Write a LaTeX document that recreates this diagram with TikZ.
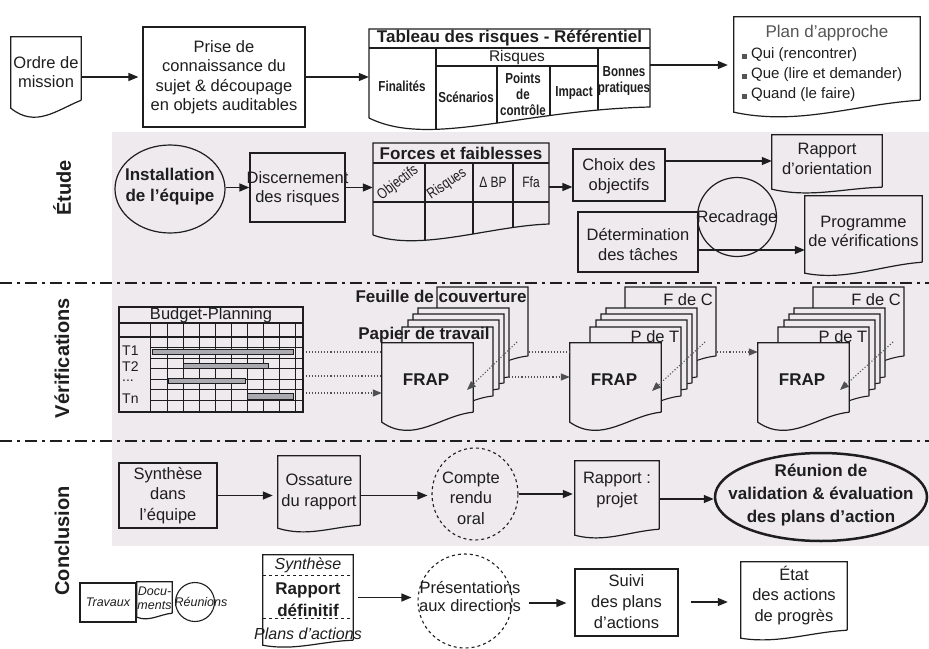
\documentclass[tikz,border=0pt]{standalone}
\usepackage{fontspec}
\setmainfont{Liberation Sans}
\newfontfamily\narrowfont[FakeStretch=0.8]{Liberation Sans}
\usetikzlibrary{arrows.meta,calc,shapes.geometric}
\definecolor{ink}{RGB}{30,30,30}
\definecolor{bgsec}{RGB}{238,234,238}
\definecolor{barfill}{RGB}{170,170,176}
\definecolor{dotc}{RGB}{80,80,80}
\definecolor{plangray}{RGB}{85,85,85}
\newcommand\fsM{\fontsize{16.5}{19.5}\selectfont}
\newcommand\fsB{\fontsize{17}{21}\selectfont\bfseries}
\newcommand\fsN{\fontsize{14.5}{16}\selectfont\narrowfont\bfseries}
\newcommand\fsS{\fontsize{12.5}{14}\selectfont\itshape}
% document outline: #2 node, #3 extra drop of left side, #4 dip, #5 right control
\newcommand\docshape[5][]{%
  \draw[docline,#1] (#2.south east) -- (#2.north east) -- (#2.north west) -- ($(#2.south west)+(0,#3)$)
   .. controls ($(#2.south west)!0.35!(#2.south east)+(0,{#3+#4})$) and ($(#2.south west)!0.65!(#2.south east)+(0,#5)$) .. (#2.south east);}
\newcommand\stackpage[2]{%
  \filldraw[pageline] ({#1+91},{#2+69}) -- ({#1+91},#2) -- (#1,#2) -- (#1,{#2+79})
   .. controls ({#1+32},{#2+101}) and ({#1+59},{#2+72}) .. ({#1+91},{#2+69});}
\newcommand\pagestack[1]{%
  \stackpage{#1+55}{287}\stackpage{#1+36}{308}\stackpage{#1+31}{314}%
  \stackpage{#1+26}{320}\stackpage{#1+20}{327}}
\begin{document}
\begin{tikzpicture}[x=1pt,y=-1pt,
  shapebox/.style={draw=ink, line width=1.2pt, inner sep=0pt, rectangle},
  txt/.style={text=ink, align=center, inner sep=0pt, font=\fsM},
  docline/.style={draw=ink, line width=1.2pt},
  pageline/.style={draw=ink, line width=1.1pt, fill=bgsec},
  tabline/.style={draw=ink, line width=1.1pt},
  arr/.style={draw=ink, line width=1.3pt, -{Triangle[length=10pt,width=8pt]}},
  dotl/.style={draw=dotc, line width=1.1pt, dotted},
  darr/.style={dotl, -{Triangle[length=9pt,width=7pt]}},
  seclabel/.style={rotate=90, font=\fontsize{20}{24}\selectfont\bfseries, text=ink, inner sep=0pt},
  sepline/.style={draw=ink, line width=2.6pt, dash pattern=on 12pt off 5pt on 3pt off 5pt},
  bar/.style={draw=ink, line width=0.9pt, fill=barfill}]
\useasboundingbox (0,0) rectangle (929,648);
\fill[white] (0,0) rectangle (929,648);
\fill[bgsec] (112,132) rectangle (929,546);
\draw[sepline] (0,283) -- (929,283);
\draw[sepline] (0,441) -- (929,441);

% section labels
\node[seclabel] (lblE) at (62,188) {Étude};
\node[seclabel] (lblV) at (62,358) {Vérifications};
\node[seclabel] (lblC) at (62,541) {Conclusion};

% ---------- top row
\node[inner sep=0, minimum width=70, minimum height=63] (ordre) at (46,68.5) {};
\docshape{ordre}{8}{20}{10}
\node[txt] (ordreT) at (46,72) {Ordre de\\mission};
\node[shapebox, minimum width=162, minimum height=100] (prise) at (224,77) {};
\node[txt] (priseT) at (224,77) {Prise de\\connaissance du\\sujet \& découpage\\en objets auditables};
\draw[arr, shorten >=4pt] (ordre.east |- prise.west) -- (prise.west);

\node[inner sep=0, minimum width=281, minimum height=89] (tab) at (509.5,73.5) {};
\begin{scope}
  \clip (369,118) -- (369,29) -- (650,29) -- (650,107) .. controls (520,110) and (430,148) .. (369,118) -- cycle;
  \draw[tabline] (369,48) -- (650,48);
  \draw[tabline] (436,48) -- (436,150);
  \draw[tabline] (436,66) -- (598,66);
  \draw[tabline] (598,48) -- (598,150);
  \draw[tabline] (497,66) -- (497,150);
  \draw[tabline] (550,66) -- (550,150);
\end{scope}
\draw[tabline, line width=1.2pt] (369,118) -- (369,29) -- (650,29) -- (650,107) .. controls (520,110) and (430,148) .. (369,118);
\node[txt, font=\fsB] (tabT) at (509.5,38.5) {Tableau des risques - Référentiel};
\node[txt, font=\fsN] (finT) at (402,86) {Finalités};
\node[txt, font=\fontsize{15.5}{18}\selectfont] (risT) at (517,57) {Risques};
\node[txt, font=\fsN] (scenT) at (466,97) {Scénarios};
\node[txt, font=\fsN, align=center] (pdcT) at (523,94) {Points\\de\\contrôle};
\node[txt, font=\fsN] (impT) at (574,93) {Impact};
\node[txt, font=\fsN, align=center] (bpT) at (624,81) {Bonnes\\pratiques};
\draw[arr] (prise.east) -- (prise.east -| tab.west);

\node[inner sep=0, minimum width=186, minimum height=83] (plan) at (827,58.5) {};
\docshape{plan}{12}{14}{4}
\node[txt, font=\fontsize{17}{20}\selectfont, text=plangray] (planT) at (827,33) {Plan d'approche};
\node[txt, anchor=west, font=\fontsize{15}{18}\selectfont] (quiT) at (742,55) {{\color{plangray}\rule{5pt}{5pt}}\hspace{4pt}Qui (rencontrer)};
\node[txt, anchor=west, font=\fontsize{15}{18}\selectfont] (queT) at (742,75) {{\color{plangray}\rule{5pt}{5pt}}\hspace{4pt}Que (lire et demander)};
\node[txt, anchor=west, font=\fontsize{15}{18}\selectfont] (quandT) at (742,95) {{\color{plangray}\rule{5pt}{5pt}}\hspace{4pt}Quand (le faire)};
\draw[arr, shorten >=6pt] ([yshift=8.5pt]tab.east) -- ([yshift=8.5pt]tab.east -| plan.west);

% ---------- Etude
\node[draw=ink, line width=1.2pt, ellipse, inner sep=0, minimum width=110, minimum height=88] (inst) at (170,189) {};
\node[txt, font=\fsB] (instT) at (170,187) {Installation\\de l'équipe};
\node[shapebox, minimum width=95, minimum height=69] (disc) at (297.5,187.5) {};
\node[txt] (discT) at (297.5,188.5) {Discernement\\des risques};
\draw[arr] (inst.east |- disc.west) -- (disc.west);

\node[inner sep=0, minimum width=176, minimum height=92] (forces) at (461,189) {};
\begin{scope}
  \clip (373,235) -- (373,143) -- (549,143) -- (549,224) .. controls (490,226) and (420,252) .. (373,235) -- cycle;
  \draw[tabline] (373,163) -- (549,163);
  \draw[tabline] (373,202) -- (549,202);
  \draw[tabline] (425,163) -- (425,260);
  \draw[tabline] (473,163) -- (473,260);
  \draw[tabline] (513,163) -- (513,260);
\end{scope}
\draw[tabline, line width=1.2pt] (373,235) -- (373,143) -- (549,143) -- (549,224) .. controls (490,226) and (420,252) .. (373,235);
\node[txt, font=\fsB] (forcesT) at (461,153) {Forces et faiblesses};
\node[txt, rotate=37, font=\narrowfont\fontsize{15}{17}\selectfont] (objT) at (398,183) {Objectifs};
\node[txt, rotate=34, font=\narrowfont\fontsize{15}{17}\selectfont] (risqT) at (447,184) {Risques};
\node[txt, font=\narrowfont\fontsize{15}{17}\selectfont] (dbpT) at (493,182) {Δ BP};
\node[txt, font=\narrowfont\fontsize{15}{17}\selectfont] (ffaT) at (531,182) {Ffa};
\draw[arr] (disc.east) -- (disc.east -| forces.west);

\node[shapebox, minimum width=92, minimum height=52] (choix) at (619,175) {};
\node[txt] (choixT) at (619,176) {Choix des\\objectifs};
\draw[arr] ([yshift=2pt]forces.east) -- ([yshift=2pt]forces.east -| choix.west);

\node[inner sep=0, minimum width=110, minimum height=52] (rorient) at (827,161) {};
\docshape{rorient}{2}{9}{1}
\node[txt] (rorientT) at (827,159) {Rapport\\d'orientation};
\draw[arr] (choix.east |- rorient.west) -- (rorient.west);

\node[shapebox, minimum width=120, minimum height=60] (deter) at (638,242) {};
\node[txt] (deterT) at (638,244.5) {Détermination\\des tâches};
\node[draw=ink, line width=1.2pt, circle, inner sep=0, minimum size=79] (recad) at (737,217) {};
\node[txt] (recadT) at (737,218) {Recadrage};
\node[inner sep=0, minimum width=117, minimum height=66] (prog) at (863.5,229) {};
\docshape{prog}{11}{8}{3}
\node[txt] (progT) at (863.5,231.5) {Programme\\de vérifications};
\draw[arr] ([yshift=-8pt]deter.east) -- ([yshift=-8pt]deter.east -| prog.west);

% ---------- Verifications
\node[shapebox, minimum width=184, minimum height=105] (budget) at (211,359.5) {};
\draw[tabline] (119,323) -- (303,323);
\draw[tabline] (119,337) -- (303,337);
\foreach \xx in {150,167,183,199,215,231,247,263,279,295}
  \draw[tabline, line width=0.9pt] (\xx,323) -- (\xx,412);
\foreach \yy in {347.5,358,368.5,379,389.5,400}
  \draw[tabline, line width=0.9pt] (150,\yy) -- (303,\yy);
\draw[bar] (152,349) rectangle (293,354.5);
\draw[bar] (183,363) rectangle (268,368.5);
\draw[bar] (168,378) rectangle (245,383.5);
\draw[bar] (247,393.5) rectangle (293,399);
\node[txt, font=\fontsize{16.5}{19}\selectfont] (budgetT) at (211,315) {Budget-Planning};
\node[txt, anchor=west, font=\fontsize{14}{16}\selectfont] (t1T) at (122,351) {T1};
\node[txt, anchor=west, font=\fontsize{14}{16}\selectfont] (t2T) at (122,367) {T2};
\node[txt, anchor=west, font=\fontsize{14}{16}\selectfont] (tdT) at (122,381) {...};
\node[txt, anchor=west, font=\fontsize{14}{16}\selectfont] (tnT) at (122,399) {Tn};

% stack A
\pagestack{382}
\node[inner sep=0, minimum width=91, minimum height=69] (frapA) at (427.5,377.5) {};
\docshape[fill=bgsec]{frapA}{10}{22}{3}
\node[txt, font=\fsB] (frapAT) at (426,380) {FRAP};
\node[txt, font=\fsB] (feuilleT) at (441,296) {Feuille de couverture};
\node[txt, font=\fsB] (papierT) at (424,335) {Papier de travail};
\coordinate (sA) at (517,342);
\draw[darr] (sA) -- (467,390);
% stack B
\pagestack{570}
\node[inner sep=0, minimum width=91, minimum height=69] (frapB) at (615.5,377.5) {};
\docshape[fill=bgsec]{frapB}{10}{22}{3}
\node[txt, font=\fsB] (frapBT) at (614,380) {FRAP};
\node[txt] (pdtB) at (655,337) {P de T};
\node[txt] (fdcB) at (688,300) {F de C};
\coordinate (sB) at (705,342);
\draw[darr] (sB) -- (652,391);
% stack C
\pagestack{758}
\node[inner sep=0, minimum width=91, minimum height=69] (frapC) at (803.5,377.5) {};
\docshape[fill=bgsec]{frapC}{10}{22}{3}
\node[txt, font=\fsB] (frapCT) at (802,380) {FRAP};
\node[txt] (pdtC) at (843,337) {P de T};
\node[txt] (fdcC) at (876,300) {F de C};
\coordinate (sC) at (893,342);
\draw[darr] (sC) -- (840,390);

% dotted links
\draw[dotl] ([xshift=2pt]budget.east |- 0,352) -- (frapA.west |- 0,352);
\draw[dotl] ([xshift=2pt]budget.east |- 0,376) -- (frapA.west |- 0,376);
\draw[darr] ([xshift=2pt]budget.east |- 0,393) -- (frapA.west |- 0,393);
\coordinate (eA5) at (529,352);
\coordinate (eA4) at (509,377);
\coordinate (eB5) at (717,352);
\draw[dotl] (eA5) -- (frapB.west |- eA5);
\draw[darr] (eA4) -- (frapB.west |- eA4);
\draw[darr] (eB5) -- (frapC.west |- eB5);

% ---------- Conclusion
\node[shapebox, minimum width=98, minimum height=65] (synth) at (168,495.5) {};
\node[txt, font=\fontsize{16.5}{20.5}\selectfont] (synthT) at (168,495.5) {Synthèse\\dans\\l'équipe};
\node[inner sep=0, minimum width=82, minimum height=69] (ossa) at (319,490.5) {};
\docshape{ossa}{3}{9}{2}
\node[txt, font=\fontsize{16.5}{21}\selectfont] (ossaT) at (319,492) {Ossature\\du rapport};
\draw[arr, shorten >=5pt] (synth.east) -- (synth.east -| ossa.west);
\node[draw=ink, line width=1.1pt, dashed, ellipse, inner sep=0, minimum width=86, minimum height=92] (compte) at (475,494) {};
\node[txt, font=\fontsize{16.5}{20.5}\selectfont] (compteT) at (471,498) {Compte\\rendu\\oral};
\draw[arr, shorten >=4pt] (ossa.east |- synth.east) -- (compte.west |- synth.east);
\node[inner sep=0, minimum width=84, minimum height=68] (rproj) at (617,495) {};
\docshape{rproj}{6}{8}{2}
\node[txt, font=\fontsize{16.5}{21}\selectfont] (rprojT) at (617,490.5) {Rapport :\\projet};
\draw[arr, shorten >=2pt] (compte.east) -- (compte.east -| rproj.west);
\node[draw=ink, line width=2.5pt, ellipse, inner sep=0, minimum width=212, minimum height=88] (reunion) at (821,497) {};
\node[txt, font=\fontsize{17}{23}\selectfont\bfseries] (reunionT) at (821,495) {Réunion de\\validation \& évaluation\\des plans d'action};
\draw[arr] ([yshift=-4pt]rproj.east) -- ([yshift=-4pt]rproj.east -| reunion.west);

% ---------- bottom row
\node[shapebox, minimum width=56, minimum height=39] (trav) at (108,602.5) {};
\node[txt, font=\fsS] (travT) at (108,602.5) {Travaux};
\node[inner sep=0, minimum width=35, minimum height=31] (docu) at (154.5,597.5) {};
\docshape{docu}{4}{5}{1}
\node[txt, font=\fsS] (docuT) at (154.5,598) {Docu-\\ments};
\node[draw=ink, line width=1.1pt, circle, inner sep=0, minimum size=39] (reun) at (195,602) {};
\node[txt, font=\fsS] (reunT) at (201,602) {Réunions};

\node[inner sep=0, minimum width=90, minimum height=85] (rapdef) at (308,597.5) {};
\docshape{rapdef}{5}{6}{1}
\draw[docline, dashed, line width=1pt] (rapdef.west |- 0,575) -- (rapdef.east |- 0,575);
\draw[docline, dashed, line width=1pt] (rapdef.west |- 0,618) -- (rapdef.east |- 0,618);
\node[txt, font=\fontsize{16}{19}\selectfont\itshape] (rsynT) at (308,565) {Synthèse};
\node[txt, font=\fontsize{17}{22}\selectfont\bfseries] (rdefT) at (308,600) {Rapport\\définitif};
\node[txt, font=\fontsize{16}{19}\selectfont\itshape] (rplT) at (308,634) {Plans d'actions};

\node[draw=ink, line width=1.1pt, dashed, circle, inner sep=0, minimum size=94] (pres) at (465,601) {};
\node[txt, font=\fontsize{16.5}{18}\selectfont] (presT) at (470,596) {Présentations\\aux directions};
\draw[arr, shorten <=5pt, shorten >=6pt] (rapdef.east) -- (rapdef.east -| pres.west);

\node[shapebox, minimum width=103, minimum height=67] (suivi) at (626.5,602.5) {};
\node[txt, font=\fontsize{16.5}{21}\selectfont] (suiviT) at (626.5,601.5) {Suivi\\des plans\\d'actions};
\draw[arr, shorten <=16pt, shorten >=8pt] (pres.east |- 0,603) -- (suivi.west |- 0,603);

\node[inner sep=0, minimum width=106, minimum height=68] (etat) at (794,596) {};
\docshape{etat}{8}{6}{2}
\node[txt, font=\fontsize{16.5}{20.5}\selectfont] (etatT) at (794,595.5) {État\\des actions\\de progrès};
\draw[arr, shorten <=12pt, shorten >=13pt] (suivi.east |- 0,602) -- (etat.west |- 0,602);
\end{tikzpicture}
\end{document}
